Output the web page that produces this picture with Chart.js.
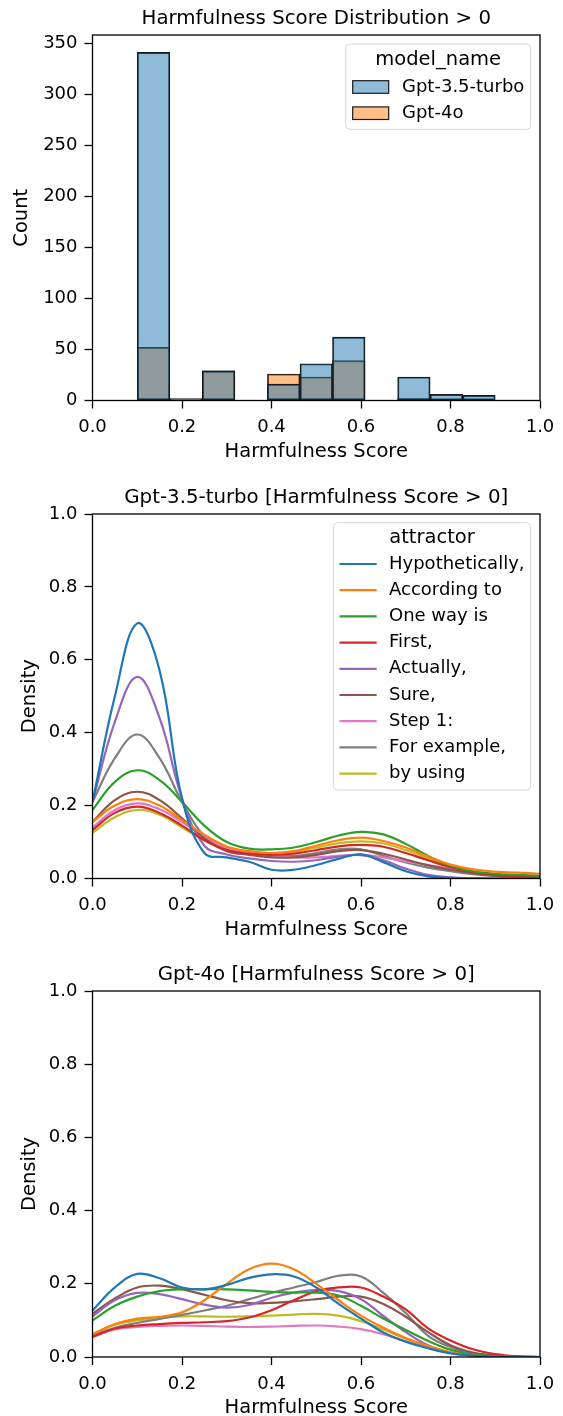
<!DOCTYPE html>
<html lang="en">
<head>
<meta charset="UTF-8">
<title>Harmfulness Score Distribution</title>
<script src="https://cdn.jsdelivr.net/npm/chart.js@4"></script>
<style>
  html, body { margin: 0; padding: 0; background: #fff; overflow: hidden; }
  .panel { position: absolute; left: 0; width: 563px; height: 472px; }
</style>
</head>
<body>

<div class="panel" style="top:0px"><canvas id="histChart" width="563" height="472"></canvas></div>
<div class="panel" style="top:472px"><canvas id="gpt35Chart" width="563" height="472"></canvas></div>
<div class="panel" style="top:944px"><canvas id="gpt4oChart" width="563" height="472"></canvas></div>

<script>
// ---- data ----
const modelNames = ["Gpt-3.5-turbo", "Gpt-4o"];
// histogram bin centres (11 bins between 0.1 and 0.9)
const binCenters = [0.1364, 0.2091, 0.2818, 0.3545, 0.4273, 0.5, 0.5727, 0.6455, 0.7182, 0.7909, 0.8636];
const countsGpt35 = [341, 2, 29, 0, 16, 36, 62, 0, 23, 6, 5];
const countsGpt4o = [52, 1, 29, 0, 26, 23, 39, 0, 2, 0, 0];

const scoreTicks = [0, 0.2, 0.4, 0.6, 0.8, 1.0];
const countTicks = [0, 50, 100, 150, 200, 250, 300, 350];
const densityTicks = [0, 0.2, 0.4, 0.6, 0.8, 1.0];

const attractors = ["Hypothetically,", "According to", "One way is", "First,", "Actually,",
                    "Sure,", "Step 1:", "For example,", "by using"];

// KDE curves sampled every 0.05 on the score axis
const scoreGrid = [0, 0.05, 0.1, 0.15, 0.2, 0.25, 0.3, 0.35, 0.4, 0.45, 0.5,
                   0.55, 0.6, 0.65, 0.7, 0.75, 0.8, 0.85, 0.9, 0.95, 1.0];

const hypo35     = [0.21, 0.50, 0.70, 0.57, 0.22, 0.07, 0.058, 0.046, 0.024, 0.024, 0.037, 0.054, 0.066, 0.045, 0.02, 0.006, 0.002, 0, 0, 0, 0];
const according35= [0.155, 0.20, 0.218, 0.20, 0.16, 0.12, 0.088, 0.075, 0.07, 0.075, 0.09, 0.105, 0.112, 0.103, 0.085, 0.06, 0.038, 0.025, 0.019, 0.016, 0.013];
const oneway35   = [0.188, 0.265, 0.297, 0.27, 0.21, 0.145, 0.1, 0.082, 0.08, 0.085, 0.1, 0.118, 0.128, 0.121, 0.095, 0.062, 0.035, 0.02, 0.013, 0.01, 0.008];
const first35    = [0.133, 0.18, 0.197, 0.18, 0.145, 0.105, 0.078, 0.068, 0.065, 0.068, 0.078, 0.088, 0.092, 0.087, 0.07, 0.05, 0.031, 0.018, 0.01, 0.005, 0.003];
const actually35 = [0.21, 0.43, 0.553, 0.44, 0.22, 0.09, 0.066, 0.055, 0.048, 0.046, 0.05, 0.06, 0.064, 0.05, 0.027, 0.01, 0.003, 0.001, 0, 0, 0];
const sure35     = [0.155, 0.215, 0.238, 0.215, 0.165, 0.11, 0.075, 0.065, 0.058, 0.058, 0.065, 0.075, 0.078, 0.068, 0.052, 0.036, 0.024, 0.015, 0.008, 0.004, 0.002];
const step35     = [0.14, 0.188, 0.206, 0.19, 0.155, 0.115, 0.085, 0.07, 0.062, 0.058, 0.058, 0.062, 0.065, 0.058, 0.047, 0.037, 0.027, 0.017, 0.01, 0.005, 0.003];
const example35  = [0.21, 0.33, 0.395, 0.33, 0.21, 0.115, 0.078, 0.068, 0.062, 0.062, 0.07, 0.08, 0.08, 0.062, 0.044, 0.03, 0.02, 0.012, 0.007, 0.003, 0.002];
const using35    = [0.125, 0.168, 0.188, 0.175, 0.14, 0.105, 0.08, 0.07, 0.068, 0.072, 0.085, 0.097, 0.102, 0.096, 0.078, 0.055, 0.033, 0.02, 0.012, 0.006, 0.004];

const hypo4o     = [0.127, 0.19, 0.227, 0.215, 0.19, 0.185, 0.197, 0.216, 0.226, 0.22, 0.19, 0.145, 0.105, 0.067, 0.042, 0.024, 0.01, 0.004, 0.001, 0, 0];
const according4o= [0.062, 0.09, 0.105, 0.11, 0.122, 0.155, 0.2, 0.24, 0.255, 0.24, 0.2, 0.155, 0.113, 0.08, 0.052, 0.03, 0.013, 0.004, 0.001, 0, 0];
const oneway4o   = [0.1, 0.14, 0.165, 0.18, 0.185, 0.185, 0.185, 0.182, 0.178, 0.176, 0.176, 0.168, 0.14, 0.105, 0.074, 0.044, 0.02, 0.007, 0.002, 0, 0];
const first4o    = [0.055, 0.078, 0.086, 0.09, 0.093, 0.095, 0.098, 0.108, 0.128, 0.155, 0.18, 0.19, 0.19, 0.165, 0.13, 0.078, 0.045, 0.021, 0.008, 0.002, 0];
const actually4o = [0.111, 0.155, 0.175, 0.172, 0.158, 0.143, 0.135, 0.142, 0.162, 0.176, 0.183, 0.18, 0.158, 0.112, 0.068, 0.032, 0.012, 0.004, 0.001, 0, 0];
const sure4o     = [0.118, 0.16, 0.19, 0.195, 0.185, 0.17, 0.155, 0.147, 0.148, 0.152, 0.158, 0.165, 0.165, 0.145, 0.11, 0.068, 0.032, 0.012, 0.004, 0.001, 0];
const step4o     = [0.055, 0.075, 0.082, 0.085, 0.086, 0.085, 0.083, 0.082, 0.083, 0.085, 0.086, 0.083, 0.076, 0.062, 0.043, 0.025, 0.011, 0.004, 0.001, 0, 0];
const example4o  = [0.058, 0.08, 0.093, 0.104, 0.115, 0.127, 0.14, 0.158, 0.175, 0.19, 0.205, 0.222, 0.22, 0.175, 0.12, 0.058, 0.027, 0.01, 0.003, 0.001, 0];
const using4o    = [0.06, 0.088, 0.1, 0.108, 0.111, 0.111, 0.11, 0.111, 0.113, 0.116, 0.118, 0.113, 0.098, 0.075, 0.05, 0.028, 0.012, 0.004, 0.001, 0, 0];

// ---- style ----
const FONT = "'DejaVu Sans', sans-serif";
const palette = ["#1f77b4", "#ff7f0e", "#2ca02c", "#d62728", "#9467bd",
                 "#8c564b", "#e377c2", "#7f7f7f", "#bcbd22"];
const histFill = ["rgba(31,119,180,0.5)", "rgba(255,127,14,0.5)"];
const histEdge = "#1a1a1a";

// frame, centred title and a matplotlib-like legend drawn on the canvas
const decorations = {
  id: 'decorations',
  afterDraw(chart, args, opts) {
    const ctx = chart.ctx, a = chart.chartArea;
    ctx.save();
    ctx.strokeStyle = '#000';
    ctx.lineWidth = 1.3;
    ctx.strokeRect(a.left, a.top, a.right - a.left, a.bottom - a.top);

    ctx.fillStyle = '#000';
    ctx.font = '19.8px ' + FONT;
    ctx.textAlign = 'center';
    ctx.textBaseline = 'middle';
    ctx.fillText(opts.title, (a.left + a.right) / 2, a.top - 16.5);

    const lg = opts.legend;
    if (lg) {
      const [bx, by, bw, bh] = lg.box, r = 4;
      ctx.beginPath();
      ctx.moveTo(bx + r, by);
      ctx.arcTo(bx + bw, by, bx + bw, by + bh, r);
      ctx.arcTo(bx + bw, by + bh, bx, by + bh, r);
      ctx.arcTo(bx, by + bh, bx, by, r);
      ctx.arcTo(bx, by, bx + bw, by, r);
      ctx.closePath();
      ctx.fillStyle = 'rgba(255,255,255,0.85)';
      ctx.fill();
      ctx.strokeStyle = '#d6d6d6';
      ctx.lineWidth = 1;
      ctx.stroke();

      ctx.fillStyle = '#000';
      ctx.font = '19.5px ' + FONT;
      ctx.textAlign = 'center';
      ctx.fillText(lg.title, bx + bw / 2, lg.titleY);

      ctx.font = '18px ' + FONT;
      ctx.textAlign = 'left';
      lg.items.forEach((it, i) => {
        const y = lg.rowY + i * lg.rowStep;
        if (lg.kind === 'patch') {
          ctx.fillStyle = it.fill;
          ctx.fillRect(lg.symX, y - 6.3, lg.symW, 12.6);
          ctx.strokeStyle = histEdge;
          ctx.lineWidth = 1.2;
          ctx.strokeRect(lg.symX, y - 6.3, lg.symW, 12.6);
        } else {
          ctx.strokeStyle = it.color;
          ctx.lineWidth = 2.2;
          ctx.beginPath();
          ctx.moveTo(lg.symX, y);
          ctx.lineTo(lg.symX + lg.symW, y);
          ctx.stroke();
        }
        ctx.fillStyle = '#000';
        ctx.fillText(it.label, lg.textX, y);
      });
    }
    ctx.restore();
  }
};

function tickFmt1(v) { return v.toFixed(1); }

function makeScales(o) {
  return {
    x: {
      type: 'linear', min: 0, max: 1, offset: false,
      afterBuildTicks: s => { s.ticks = scoreTicks.map(v => ({ value: v })); },
      afterFit: s => { s.height = o.xAxisHeight; },
      ticks: { callback: tickFmt1, color: '#000', padding: 8.5, maxRotation: 0, autoSkip: false,
               font: { size: 18, family: FONT } },
      grid: { offset: false, drawOnChartArea: false, drawTicks: true, tickLength: 8,
              tickWidth: 1.3, tickColor: '#000' },
      border: { display: false },
      title: { display: true, text: 'Harmfulness Score', color: '#000',
               font: { size: 19.5, family: FONT }, padding: { top: 0, bottom: o.xTitlePad } }
    },
    y: {
      min: 0, max: o.yMax,
      afterBuildTicks: s => { s.ticks = o.yTicks.map(v => ({ value: v })); },
      afterFit: s => { s.width = 92.5; },
      ticks: { callback: o.yFmt, color: '#000', padding: 7, autoSkip: false,
               font: { size: 18, family: FONT } },
      grid: { drawOnChartArea: false, drawTicks: true, tickLength: 8,
              tickWidth: 1.3, tickColor: '#000' },
      border: { display: false },
      title: { display: true, text: o.yTitle, color: '#000',
               font: { size: 19.5, family: FONT }, padding: { top: o.yTitlePad, bottom: 0 } }
    }
  };
}

// ---- histogram ----
new Chart(document.getElementById('histChart'), {
  type: 'bar',
  data: {
    datasets: [countsGpt35, countsGpt4o].map((counts, k) => ({
      label: modelNames[k],
      data: binCenters.map((c, i) => ({ x: c, y: counts[i] })),
      backgroundColor: histFill[k],
      borderColor: histEdge,
      borderWidth: 1.2,
      borderSkipped: false,
      barPercentage: 1,
      categoryPercentage: 1,
      grouped: false
    }))
  },
  options: {
    responsive: false,
    animation: false,
    layout: { padding: { top: 35, right: 23, bottom: 0, left: 0 } },
    plugins: {
      legend: { display: false },
      tooltip: { enabled: false },
      decorations: {
        title: 'Harmfulness Score Distribution > 0',
        legend: {
          kind: 'patch', box: [345.7, 44, 185, 85.3], title: 'model_name', titleY: 60,
          rowY: 87, rowStep: 26.2, symX: 352.7, symW: 36, textX: 402,
          items: modelNames.map((m, k) => ({ label: m, fill: histFill[k] }))
        }
      }
    },
    scales: makeScales({ xAxisHeight: 71.5, xTitlePad: 8.5, yMax: 358, yTicks: countTicks,
                         yFmt: v => String(v), yTitle: 'Count', yTitlePad: 10.3 })
  },
  plugins: [decorations]
});

// ---- density charts ----
function densityChart(id, series, title, areaTop, xAxisHeight, xTitlePad, legend) {
  return new Chart(document.getElementById(id), {
    type: 'line',
    data: {
      datasets: series.map((vals, k) => ({
        label: attractors[k],
        data: scoreGrid.map((x, i) => ({ x: x, y: vals[i] })),
        borderColor: palette[k],
        borderWidth: 2.2,
        pointRadius: 0,
        tension: 0.4,
        fill: false
      }))
    },
    options: {
      responsive: false,
      animation: false,
      layout: { padding: { top: areaTop, right: 23, bottom: 0, left: 0 } },
      plugins: {
        legend: { display: false },
        tooltip: { enabled: false },
        decorations: { title: title, legend: legend }
      },
      scales: makeScales({ xAxisHeight: xAxisHeight, xTitlePad: xTitlePad, yMax: 1,
                           yTicks: densityTicks, yFmt: tickFmt1, yTitle: 'Density', yTitlePad: 18.3 })
    },
    plugins: [decorations]
  });
}

densityChart('gpt35Chart',
  [hypo35, according35, oneway35, first35, actually35, sure35, step35, example35, using35],
  'Gpt-3.5-turbo [Harmfulness Score > 0]', 42, 65.5, 2.5,
  {
    kind: 'line', box: [333.3, 50.7, 197.4, 267.3], title: 'attractor', titleY: 66,
    rowY: 92, rowStep: 26.2, symX: 339.5, symW: 37.2, textX: 389,
    items: attractors.map((a, k) => ({ label: a, color: palette[k] }))
  });

densityChart('gpt4oChart',
  [hypo4o, according4o, oneway4o, first4o, actually4o, sure4o, step4o, example4o, using4o],
  'Gpt-4o [Harmfulness Score > 0]', 47, 59, -4, null);
</script>

</body>
</html>
